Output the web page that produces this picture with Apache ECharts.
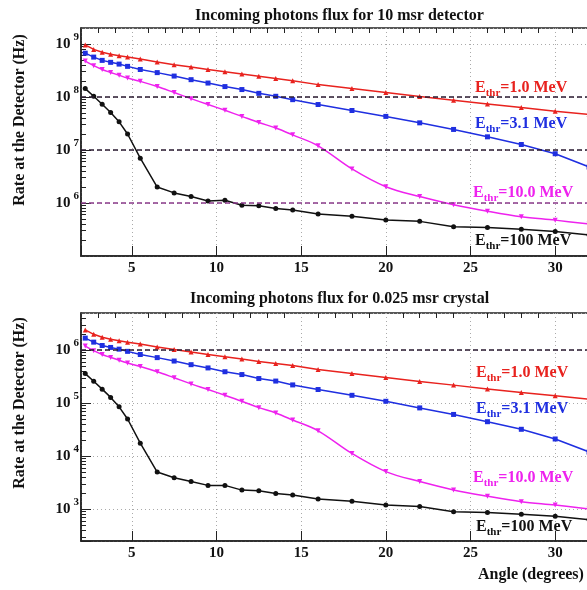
<!DOCTYPE html>
<html>
<head>
<meta charset="utf-8">
<script src="https://cdn.jsdelivr.net/npm/echarts@6/dist/echarts.min.js"></script>
<style>
html, body { margin: 0; padding: 0; background: #fff; }
#chart { width: 587px; height: 590px; }
</style>
</head>
<body>
<div id="chart"></div>
<script>
// angle bins (degrees)
var angles = [2.25, 2.75, 3.25, 3.75, 4.25, 4.75, 5.5, 6.5, 7.5, 8.5, 9.5, 10.5, 11.5, 12.5, 13.5, 14.5, 16, 18, 20, 22, 24, 26, 28, 30, 32];
var xTickLabels = [5, 10, 15, 20, 25, 30];

// 10 msr detector
var detE1 = [9.6e8, 7.9e8, 7.0e8, 6.4e8, 6.0e8, 5.65e8, 5.2e8, 4.55e8, 4.06e8, 3.66e8, 3.3e8, 3.0e8, 2.7e8, 2.45e8, 2.24e8, 2.03e8, 1.71e8, 1.44e8, 1.22e8, 1.02e8, 8.7e7, 7.4e7, 6.3e7, 5.4e7, 4.7e7];
var detE3 = [6.7e8, 5.65e8, 4.9e8, 4.5e8, 4.17e8, 3.78e8, 3.3e8, 2.88e8, 2.48e8, 2.12e8, 1.83e8, 1.57e8, 1.38e8, 1.17e8, 1.03e8, 8.9e7, 7.2e7, 5.55e7, 4.3e7, 3.25e7, 2.44e7, 1.77e7, 1.27e7, 8.5e6, 4.8e6];
var detE10 = [4.75e8, 3.9e8, 3.3e8, 2.9e8, 2.56e8, 2.27e8, 1.97e8, 1.57e8, 1.21e8, 9.3e7, 7.2e7, 5.6e7, 4.3e7, 3.3e7, 2.6e7, 1.93e7, 1.2e7, 4.4e6, 2.03e6, 1.32e6, 9.3e5, 7.0e5, 5.5e5, 4.75e5, 4.0e5];
var detE100 = [1.44e8, 1.03e8, 7.3e7, 5.1e7, 3.4e7, 2.0e7, 7.0e6, 2.0e6, 1.55e6, 1.32e6, 1.09e6, 1.13e6, 9.1e5, 8.9e5, 7.85e5, 7.4e5, 6.2e5, 5.65e5, 4.8e5, 4.5e5, 3.55e5, 3.45e5, 3.2e5, 2.9e5, 2.5e5];

// 0.025 msr crystal
var cryE1 = [2.4e6, 1.98e6, 1.75e6, 1.6e6, 1.5e6, 1.41e6, 1.3e6, 1.14e6, 1.02e6, 9.15e5, 8.25e5, 7.5e5, 6.75e5, 6.1e5, 5.6e5, 5.1e5, 4.3e5, 3.6e5, 3.05e5, 2.55e5, 2.18e5, 1.85e5, 1.58e5, 1.37e5, 1.18e5];
var cryE3 = [1.68e6, 1.41e6, 1.22e6, 1.12e6, 1.04e6, 9.45e5, 8.25e5, 7.2e5, 6.2e5, 5.3e5, 4.6e5, 3.9e5, 3.45e5, 2.9e5, 2.6e5, 2.2e5, 1.8e5, 1.4e5, 1.08e5, 8.1e4, 6.1e4, 4.45e4, 3.2e4, 2.1e4, 1.2e4];
var cryE10 = [1.19e6, 9.75e5, 8.25e5, 7.25e5, 6.4e5, 5.7e5, 4.9e5, 3.9e5, 3.0e5, 2.3e5, 1.8e5, 1.4e5, 1.08e5, 8.2e4, 6.5e4, 4.8e4, 3.0e4, 1.12e4, 5.1e3, 3.3e3, 2.3e3, 1.75e3, 1.38e3, 1.19e3, 1.0e3];
var cryE100 = [3.6e5, 2.58e5, 1.83e5, 1.28e5, 8.5e4, 5.0e4, 1.75e4, 5.0e3, 3.9e3, 3.3e3, 2.8e3, 2.8e3, 2.28e3, 2.22e3, 1.96e3, 1.85e3, 1.55e3, 1.41e3, 1.2e3, 1.12e3, 8.9e2, 8.6e2, 8.0e2, 7.3e2, 6.3e2];

var FONT = '"Liberation Serif", "DejaVu Serif", serif';
var RED = '#e8221e', BLUE = '#1f2fe0', MAG = '#ee22ee', BLK = '#111111';

// minor tick positions: every degree, and 2..9 per decade
var xMinor = [];
for (var d = 3; d <= 33; d++) if (d % 5) xMinor.push(d);
function logMinor(lo, hi) {
  var out = [];
  for (var e = 2; e <= 9; e++) for (var m = 1; m <= 9; m++) {
    var v = m * Math.pow(10, e);
    if (v > lo && v < hi) out.push(v);
  }
  return out;
}

function pairs(vals) {
  return angles.map(function (a, i) { return [a, vals[i]]; });
}

function xAxisFor(gi) {
  return {
    type: 'value', gridIndex: gi, min: 2, max: 33, splitNumber: 6,
    axisLine: { show: true, lineStyle: { color: '#222', width: 1.5 } },
    axisTick: { show: true, inside: true, length: 10, lineStyle: { color: '#222' } },
    splitLine: { show: true, lineStyle: { color: '#aaa', type: [1, 3] } },
    axisLabel: {
      margin: 5, color: BLK, fontFamily: FONT, fontWeight: 'bold', fontSize: 15,
      formatter: function (v) { return xTickLabels.indexOf(v) >= 0 ? String(v) : ''; }
    }
  };
}

function xMinorAxis(gi) {
  return {
    type: 'value', gridIndex: gi, min: 2, max: 33,
    axisLine: { show: false }, axisLabel: { show: false }, splitLine: { show: false },
    axisTick: { show: true, inside: true, length: 5, customValues: xMinor, lineStyle: { color: '#222' } }
  };
}

function yAxisFor(gi, min, max, showMin) {
  return {
    type: 'log', logBase: 10, gridIndex: gi, min: min, max: max,
    axisLine: { show: true, lineStyle: { color: '#222', width: 1.5 } },
    axisTick: { show: true, inside: true, length: 10, lineStyle: { color: '#222' } },
    splitLine: { show: true, lineStyle: { color: '#aaa', type: [1, 3] } },
    axisLabel: {
      margin: 2, color: BLK, showMinLabel: showMin, showMaxLabel: false,
      formatter: function (v) {
        var e = Math.log10(v), r = Math.round(e);
        if (Math.abs(e - r) > 1e-6) return '';
        return '{b|10}{s|' + r + '}';
      },
      rich: {
        b: { fontSize: 15, fontWeight: 'bold', fontFamily: FONT, lineHeight: 24, color: BLK },
        s: { fontSize: 11, fontWeight: 'bold', fontFamily: FONT, lineHeight: 12, verticalAlign: 'top', padding: [0, 0, 0, 3], color: BLK }
      }
    }
  };
}

function yMinorAxis(gi, min, max) {
  return {
    type: 'log', logBase: 10, gridIndex: gi, min: min, max: max, position: 'left',
    axisLine: { show: false }, axisLabel: { show: false }, splitLine: { show: false },
    axisTick: { show: true, inside: true, length: 5, customValues: logMinor(min, max), lineStyle: { color: '#222' } }
  };
}

function series(vals, color, symbol, rot, gi, extra) {
  var s = {
    type: 'line', xAxisIndex: gi, yAxisIndex: gi, data: pairs(vals),
    symbol: symbol, symbolSize: 5, symbolRotate: rot,
    itemStyle: { color: color },
    lineStyle: { color: color, width: 1.5 },
    animation: false, z: 3
  };
  for (var k in extra) s[k] = extra[k];
  return s;
}

function hline(v, color) {
  return { yAxis: v, lineStyle: { color: color, type: [5, 3], width: 1.6 } };
}

function eLabel(x, y, val, color) {
  return {
    type: 'text', x: x, y: y, z: 10,
    style: {
      text: '{a|E}{b|thr}{a|=' + val + '}',
      fill: color, align: 'left', verticalAlign: 'middle',
      rich: {
        a: { fontSize: 16, fontWeight: 'bold', fontFamily: FONT, lineHeight: 22, fill: color },
        b: { fontSize: 11, fontWeight: 'bold', fontFamily: FONT, lineHeight: 11, verticalAlign: 'bottom', fill: color }
      }
    }
  };
}

var gridBase = { left: 81, width: 525, height: 228, show: true, borderColor: '#222', borderWidth: 1.5,
  containLabel: false, outerBoundsMode: 'none' };

var chart = echarts.init(document.getElementById('chart'));
chart.setOption({
  animation: false,
  backgroundColor: '#fff',
  title: [
    { text: 'Incoming photons flux for 10 msr detector', left: 190, top: 3,
      textStyle: { fontFamily: FONT, fontWeight: 'bold', fontSize: 16, color: BLK } },
    { text: 'Incoming photons flux for 0.025 msr crystal', left: 185, top: 286,
      textStyle: { fontFamily: FONT, fontWeight: 'bold', fontSize: 16, color: BLK } }
  ],
  grid: [
    Object.assign({ top: 28 }, gridBase),
    Object.assign({ top: 313 }, gridBase)
  ],
  xAxis: [xAxisFor(0), xAxisFor(1), xMinorAxis(0), xMinorAxis(1)],
  yAxis: [yAxisFor(0, 1e5, 2e9, false), yAxisFor(1, 250, 5e6, true), yMinorAxis(0, 1e5, 2e9), yMinorAxis(1, 250, 5e6)],
  series: [
    series(detE1, RED, 'triangle', 0, 0),
    series(detE3, BLUE, 'rect', 0, 0),
    series(detE10, MAG, 'triangle', 180, 0, { smooth: 0.35 }),
    series(detE100, BLK, 'circle', 0, 0, {
      markLine: { silent: true, symbol: 'none', label: { show: false },
        data: [hline(1e8, '#2a1a30'), hline(1e7, '#2a1a30'), hline(1e6, '#8a3a8a')] }
    }),
    series(cryE1, RED, 'triangle', 0, 1),
    series(cryE3, BLUE, 'rect', 0, 1),
    series(cryE10, MAG, 'triangle', 180, 1, { smooth: 0.35 }),
    series(cryE100, BLK, 'circle', 0, 1, {
      markLine: { silent: true, symbol: 'none', label: { show: false },
        data: [hline(1e6, '#2a1a30')] }
    })
  ],
  graphic: [
    { type: 'text', x: 20, y: 120, rotation: Math.PI / 2,
      style: { text: 'Rate at the Detector (Hz)', align: 'center', verticalAlign: 'middle',
        font: 'bold 16px ' + FONT, fill: BLK } },
    { type: 'text', x: 20, y: 403, rotation: Math.PI / 2,
      style: { text: 'Rate at the Detector (Hz)', align: 'center', verticalAlign: 'middle',
        font: 'bold 16px ' + FONT, fill: BLK } },
    { type: 'text', x: 478, y: 575,
      style: { text: 'Angle (degrees)', align: 'left', verticalAlign: 'middle',
        font: 'bold 16px ' + FONT, fill: BLK } },
    eLabel(475, 88, '1.0 MeV', RED),
    eLabel(475, 124, '3.1 MeV', BLUE),
    eLabel(473, 193, '10.0 MeV', MAG),
    eLabel(475, 241, '100 MeV', BLK),
    eLabel(476, 373, '1.0 MeV', RED),
    eLabel(476, 409, '3.1 MeV', BLUE),
    eLabel(473, 478, '10.0 MeV', MAG),
    eLabel(476, 527, '100 MeV', BLK)
  ]
});
</script>
</body>
</html>
